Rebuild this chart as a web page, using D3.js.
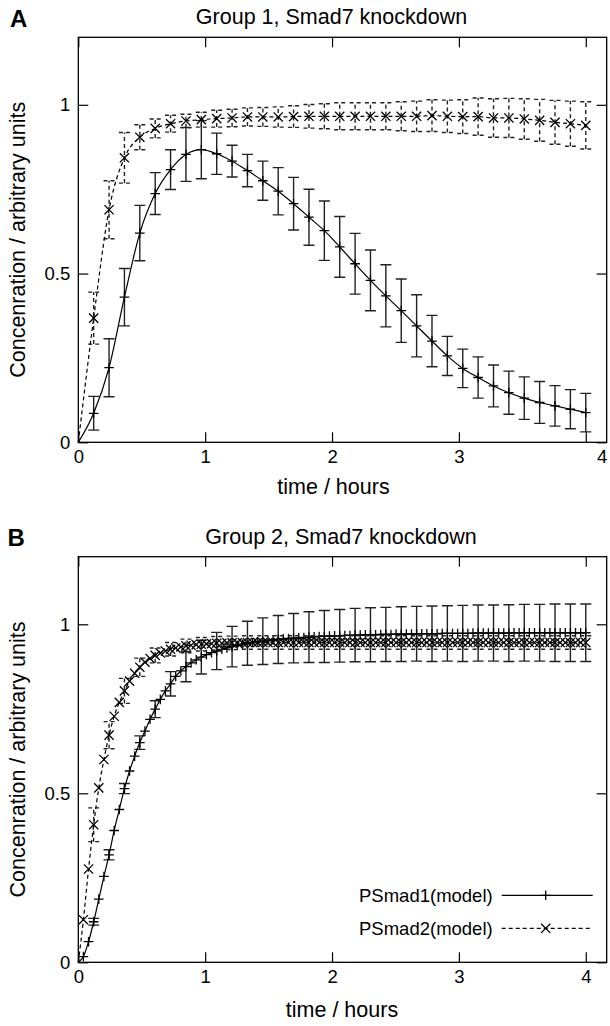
<!DOCTYPE html>
<html>
<head>
<meta charset="utf-8">
<script src="https://cdn.jsdelivr.net/npm/d3@7"></script>
<style>
body { margin: 0; background: #fff; }
svg { display: block; font-family: "Liberation Sans", Arial, Helvetica, sans-serif; }
</style>
</head>
<body>
<svg id="fig" width="610" height="1026"></svg>
<script>
"use strict";

// ---- data ----
const X_TICKS = [0, 1, 2, 3, 4];
const Y_TICKS = [0, 0.5, 1];
const SERIES_NAMES = ["PSmad1(model)", "PSmad2(model)"];

// panel A: one point every 4/33 h
const A_STEP = 4 / 33;
const A_PSMAD1 = [0, 0.086, 0.221, 0.43, 0.62, 0.737, 0.808, 0.853, 0.867, 0.855, 0.833, 0.805, 0.775, 0.744, 0.707, 0.667, 0.627,
    0.579, 0.529, 0.48, 0.434, 0.39, 0.345, 0.3, 0.256, 0.219, 0.192, 0.167, 0.147, 0.131, 0.118, 0.108, 0.098, 0.088];
const A_PSMAD1_ERR = [0, 0.05, 0.086, 0.085, 0.082, 0.062, 0.059, 0.08, 0.086, 0.061, 0.047, 0.048, 0.058, 0.07, 0.078, 0.083, 0.088,
    0.09, 0.09, 0.09, 0.092, 0.094, 0.092, 0.076, 0.058, 0.057, 0.061, 0.062, 0.064, 0.063, 0.062, 0.06, 0.058, 0.057];
const A_PSMAD2 = [0, 0.368, 0.689, 0.843, 0.904, 0.93, 0.944, 0.952, 0.956, 0.959, 0.961, 0.964, 0.964, 0.964, 0.965, 0.966, 0.966,
    0.966, 0.966, 0.966, 0.966, 0.966, 0.966, 0.968, 0.966, 0.965, 0.965, 0.961, 0.961, 0.958, 0.954, 0.948, 0.944, 0.939];
const A_PSMAD2_ERR = [0, 0.077, 0.086, 0.075, 0.037, 0.028, 0.025, 0.02, 0.022, 0.025, 0.026, 0.027, 0.028, 0.03, 0.032, 0.035, 0.037,
    0.04, 0.04, 0.04, 0.04, 0.043, 0.045, 0.047, 0.048, 0.05, 0.055, 0.057, 0.058, 0.06, 0.062, 0.065, 0.067, 0.07];

// panel B: one point every 4/99 h, error bar on every third point
const B_STEP = 4 / 99;
const B_PSMAD1 = [0, 0.017, 0.061, 0.12, 0.187, 0.254, 0.318, 0.39, 0.452, 0.514,
    0.566, 0.61, 0.65, 0.684, 0.719, 0.749, 0.778, 0.803, 0.824, 0.846,
    0.862, 0.875, 0.886, 0.895, 0.903, 0.91, 0.916, 0.921, 0.926, 0.93,
    0.934, 0.938, 0.941, 0.944, 0.946, 0.948, 0.95, 0.952, 0.954, 0.955,
    0.957, 0.958, 0.959, 0.96, 0.961, 0.962, 0.963, 0.964, 0.964, 0.965,
    0.966, 0.966, 0.967, 0.967, 0.968, 0.968, 0.969, 0.969, 0.969, 0.97,
    0.97, 0.97, 0.971, 0.971, 0.971, 0.971, 0.972, 0.972, 0.972, 0.972,
    0.972, 0.973, 0.973, 0.973, 0.973, 0.973, 0.973, 0.974, 0.974, 0.974,
    0.974, 0.974, 0.974, 0.974, 0.974, 0.975, 0.975, 0.975, 0.975, 0.975,
    0.975, 0.975, 0.975, 0.975, 0.975, 0.975, 0.975, 0.975, 0.975, 0.975];
const B_PSMAD1_ERR = [0, 0.01, 0.015, 0.015, 0.02, 0.025, 0.036, 0.045, 0.05, 0.055, 0.06, 0.065, 0.069, 0.071, 0.073, 0.075, 0.077,
    0.078, 0.079, 0.08, 0.08, 0.081, 0.081, 0.082, 0.082, 0.083, 0.083, 0.083, 0.084, 0.084, 0.084, 0.085, 0.085, 0.085];
const B_PSMAD2 = [0, 0.126, 0.276, 0.407, 0.516, 0.6, 0.672, 0.728, 0.769, 0.803,
    0.832, 0.855, 0.873, 0.888, 0.899, 0.908, 0.915, 0.921, 0.926, 0.93,
    0.933, 0.936, 0.938, 0.94, 0.941, 0.942, 0.943, 0.944, 0.944, 0.945,
    0.945, 0.945, 0.946, 0.946, 0.946, 0.946, 0.946, 0.946, 0.946, 0.946,
    0.946, 0.946, 0.946, 0.946, 0.946, 0.946, 0.946, 0.946, 0.946, 0.946,
    0.946, 0.946, 0.946, 0.946, 0.946, 0.946, 0.946, 0.946, 0.946, 0.946,
    0.946, 0.946, 0.946, 0.946, 0.946, 0.946, 0.946, 0.946, 0.946, 0.946,
    0.946, 0.946, 0.946, 0.946, 0.946, 0.946, 0.946, 0.946, 0.946, 0.946,
    0.946, 0.946, 0.946, 0.946, 0.946, 0.946, 0.946, 0.946, 0.946, 0.946,
    0.946, 0.946, 0.946, 0.946, 0.946, 0.946, 0.946, 0.946, 0.946, 0.946];
const B_PSMAD2_ERR = [0, 0.05, 0.04, 0.037, 0.027, 0.022, 0.02, 0.02, 0.02, 0.02, 0.02, 0.02, 0.02, 0.02, 0.02, 0.02, 0.02,
    0.02, 0.02, 0.02, 0.02, 0.02, 0.02, 0.02, 0.02, 0.02, 0.02, 0.02, 0.02, 0.02, 0.02, 0.02, 0.02, 0.02];

// ---- layout ----
const PLOT_LEFT = 78.3;
const PLOT_RIGHT = 606.7;
const X_MAX = 4.165;
const Y_MAX = 1.2;
const DASH = "4,3";
const TICK_FONT = 18.5;
const LABEL_FONT = 21.5;

const svg = d3.select("#fig");

function plusPath(s)
{
    return "M" + (-s) + ",0H" + s + "M0," + (-s) + "V" + s;
}

function crossPath(s)
{
    return "M" + (-s) + "," + (-s) + "L" + s + "," + s + "M" + (-s) + "," + s + "L" + s + "," + (-s);
}

/**
 * Draws one gnuplot-like panel: frame, mirrored ticks, error bars, lines, markers
 */
function drawPanel(p)
{
    let g = svg.append("g");
    let x = d3.scaleLinear().domain([0, X_MAX]).range([PLOT_LEFT, PLOT_RIGHT]);
    let y = d3.scaleLinear().domain([0, Y_MAX]).range([p.bottom, p.top]);

    // axes, ticks pointing inwards on all four sides
    let bottom = g.append("g")
        .attr("transform", "translate(0," + p.bottom + ")")
        .call(d3.axisBottom(x).tickValues(X_TICKS).tickSize(-10).tickPadding(8).tickFormat(d3.format("d")));
    g.append("g")
        .attr("transform", "translate(0," + p.top + ")")
        .call(d3.axisTop(x).tickValues(X_TICKS).tickSize(-10).tickFormat(""));
    g.append("g")
        .attr("transform", "translate(" + PLOT_LEFT + ",0)")
        .call(d3.axisLeft(y).tickValues(Y_TICKS).tickSize(-10).tickPadding(8).tickFormat(d => String(d)));
    g.append("g")
        .attr("transform", "translate(" + PLOT_RIGHT + ",0)")
        .call(d3.axisRight(y).tickValues(Y_TICKS).tickSize(-10).tickFormat(""));

    g.selectAll(".domain").remove();
    g.selectAll(".tick line").attr("stroke", "#000").attr("stroke-width", 1.2);
    g.selectAll(".tick text").attr("font-size", TICK_FONT).attr("fill", "#000");
    g.selectAll("g").attr("font-family", null).attr("font-size", null);
    if (p.lastLabelShift)
        bottom.selectAll(".tick text").filter(d => d === 4).attr("x", p.lastLabelShift);

    g.append("rect")
        .attr("x", PLOT_LEFT).attr("y", p.top)
        .attr("width", PLOT_RIGHT - PLOT_LEFT).attr("height", p.bottom - p.top)
        .attr("fill", "none").attr("stroke", "#000").attr("stroke-width", 1.3);

    let line = d3.line()
        .x(d => x(d.t))
        .y(d => y(d.v))
        .curve(d3.curveMonotoneX);

    p.series.forEach((s) =>
    {
        let pts = s.vals.map((v, k) => ({t: k * p.step, v: v}));
        let bars = s.errs.map((e, i) => ({t: i * p.errEvery * p.step, v: s.vals[i * p.errEvery], e: e}))
                         .filter(d => d.e > 0);
        let dash = s.dashed ? DASH : null;

        let eb = g.append("g")
            .attr("stroke", "#222")
            .attr("stroke-width", 1.4)
            .attr("stroke-dasharray", dash)
            .attr("fill", "none");
        eb.selectAll("path")
          .data(bars)
          .join("path")
          .attr("d", d =>
          {
              let cx = x(d.t), y0 = y(d.v - d.e), y1 = y(d.v + d.e);
              return "M" + cx + "," + y0 + "V" + y1 +
                     "M" + (cx - 5.5) + "," + y1 + "H" + (cx + 5.5) +
                     "M" + (cx - 5.5) + "," + y0 + "H" + (cx + 5.5);
          });

        g.append("path")
         .datum(pts)
         .attr("d", line)
         .attr("fill", "none")
         .attr("stroke", "#000")
         .attr("stroke-width", 1.2)
         .attr("stroke-dasharray", dash);

        g.append("g")
         .selectAll("path")
         .data(pts.filter(d => d.t > 0))
         .join("path")
         .attr("transform", d => "translate(" + x(d.t) + "," + y(d.v) + ")")
         .attr("d", s.marker === "plus" ? plusPath(4.8) : crossPath(4.6))
         .attr("fill", "none")
         .attr("stroke", "#000")
         .attr("stroke-width", 1.3);
    });

    // texts
    g.append("text")
     .attr("x", p.titleX).attr("y", p.top - 13)
     .attr("text-anchor", "middle")
     .attr("font-size", LABEL_FONT)
     .text(p.title);
    g.append("text")
     .attr("x", p.xLabelX).attr("y", p.bottom + p.xLabelGap)
     .attr("text-anchor", "middle")
     .attr("font-size", LABEL_FONT)
     .text("time / hours");
    g.append("text")
     .attr("transform", "translate(25," + ((p.top + p.bottom) / 2) + ") rotate(-90)")
     .attr("text-anchor", "middle")
     .attr("font-size", LABEL_FONT)
     .text("Concenration / arbitrary units");
    g.append("text")
     .attr("x", p.letterX).attr("y", p.top - 10.3)
     .attr("font-size", 24)
     .attr("font-weight", "bold")
     .text(p.letter);

    if (p.legend)
    {
        let lg = g.append("g").attr("font-size", TICK_FONT);
        p.series.forEach((s, i) =>
        {
            let ly = p.bottom - 67 + i * 33;
            lg.append("text")
              .attr("x", PLOT_RIGHT - 114).attr("y", ly)
              .attr("dy", "0.35em")
              .attr("text-anchor", "end")
              .text(SERIES_NAMES[i]);
            lg.append("line")
              .attr("x1", PLOT_RIGHT - 105).attr("x2", PLOT_RIGHT - 14 - i * 3)
              .attr("y1", ly).attr("y2", ly)
              .attr("stroke", "#000").attr("stroke-width", 1.2)
              .attr("stroke-dasharray", s.dashed ? DASH : null);
            lg.append("path")
              .attr("transform", "translate(" + (PLOT_RIGHT - 61) + "," + ly + ")")
              .attr("d", s.marker === "plus" ? plusPath(4.8) : crossPath(4.6))
              .attr("fill", "none").attr("stroke", "#000").attr("stroke-width", 1.3);
        });
    }
}

drawPanel({
    letter: "A", letterX: 10, title: "Group 1, Smad7 knockdown",
    top: 37.3, bottom: 442.3, titleX: 331.5, xLabelX: 333.5, xLabelGap: 52,
    lastLabelShift: 16, step: A_STEP, errEvery: 1, legend: false,
    series: [
        {vals: A_PSMAD1, errs: A_PSMAD1_ERR, dashed: false, marker: "plus"},
        {vals: A_PSMAD2, errs: A_PSMAD2_ERR, dashed: true, marker: "cross"}
    ]
});

drawPanel({
    letter: "B", letterX: 7.5, title: "Group 2, Smad7 knockdown",
    top: 556.7, bottom: 962.3, titleX: 341, xLabelX: 342, xLabelGap: 54.5,
    lastLabelShift: 0, step: B_STEP, errEvery: 3, legend: true,
    series: [
        {vals: B_PSMAD1, errs: B_PSMAD1_ERR, dashed: false, marker: "plus"},
        {vals: B_PSMAD2, errs: B_PSMAD2_ERR, dashed: true, marker: "cross"}
    ]
});
</script>
</body>
</html>
